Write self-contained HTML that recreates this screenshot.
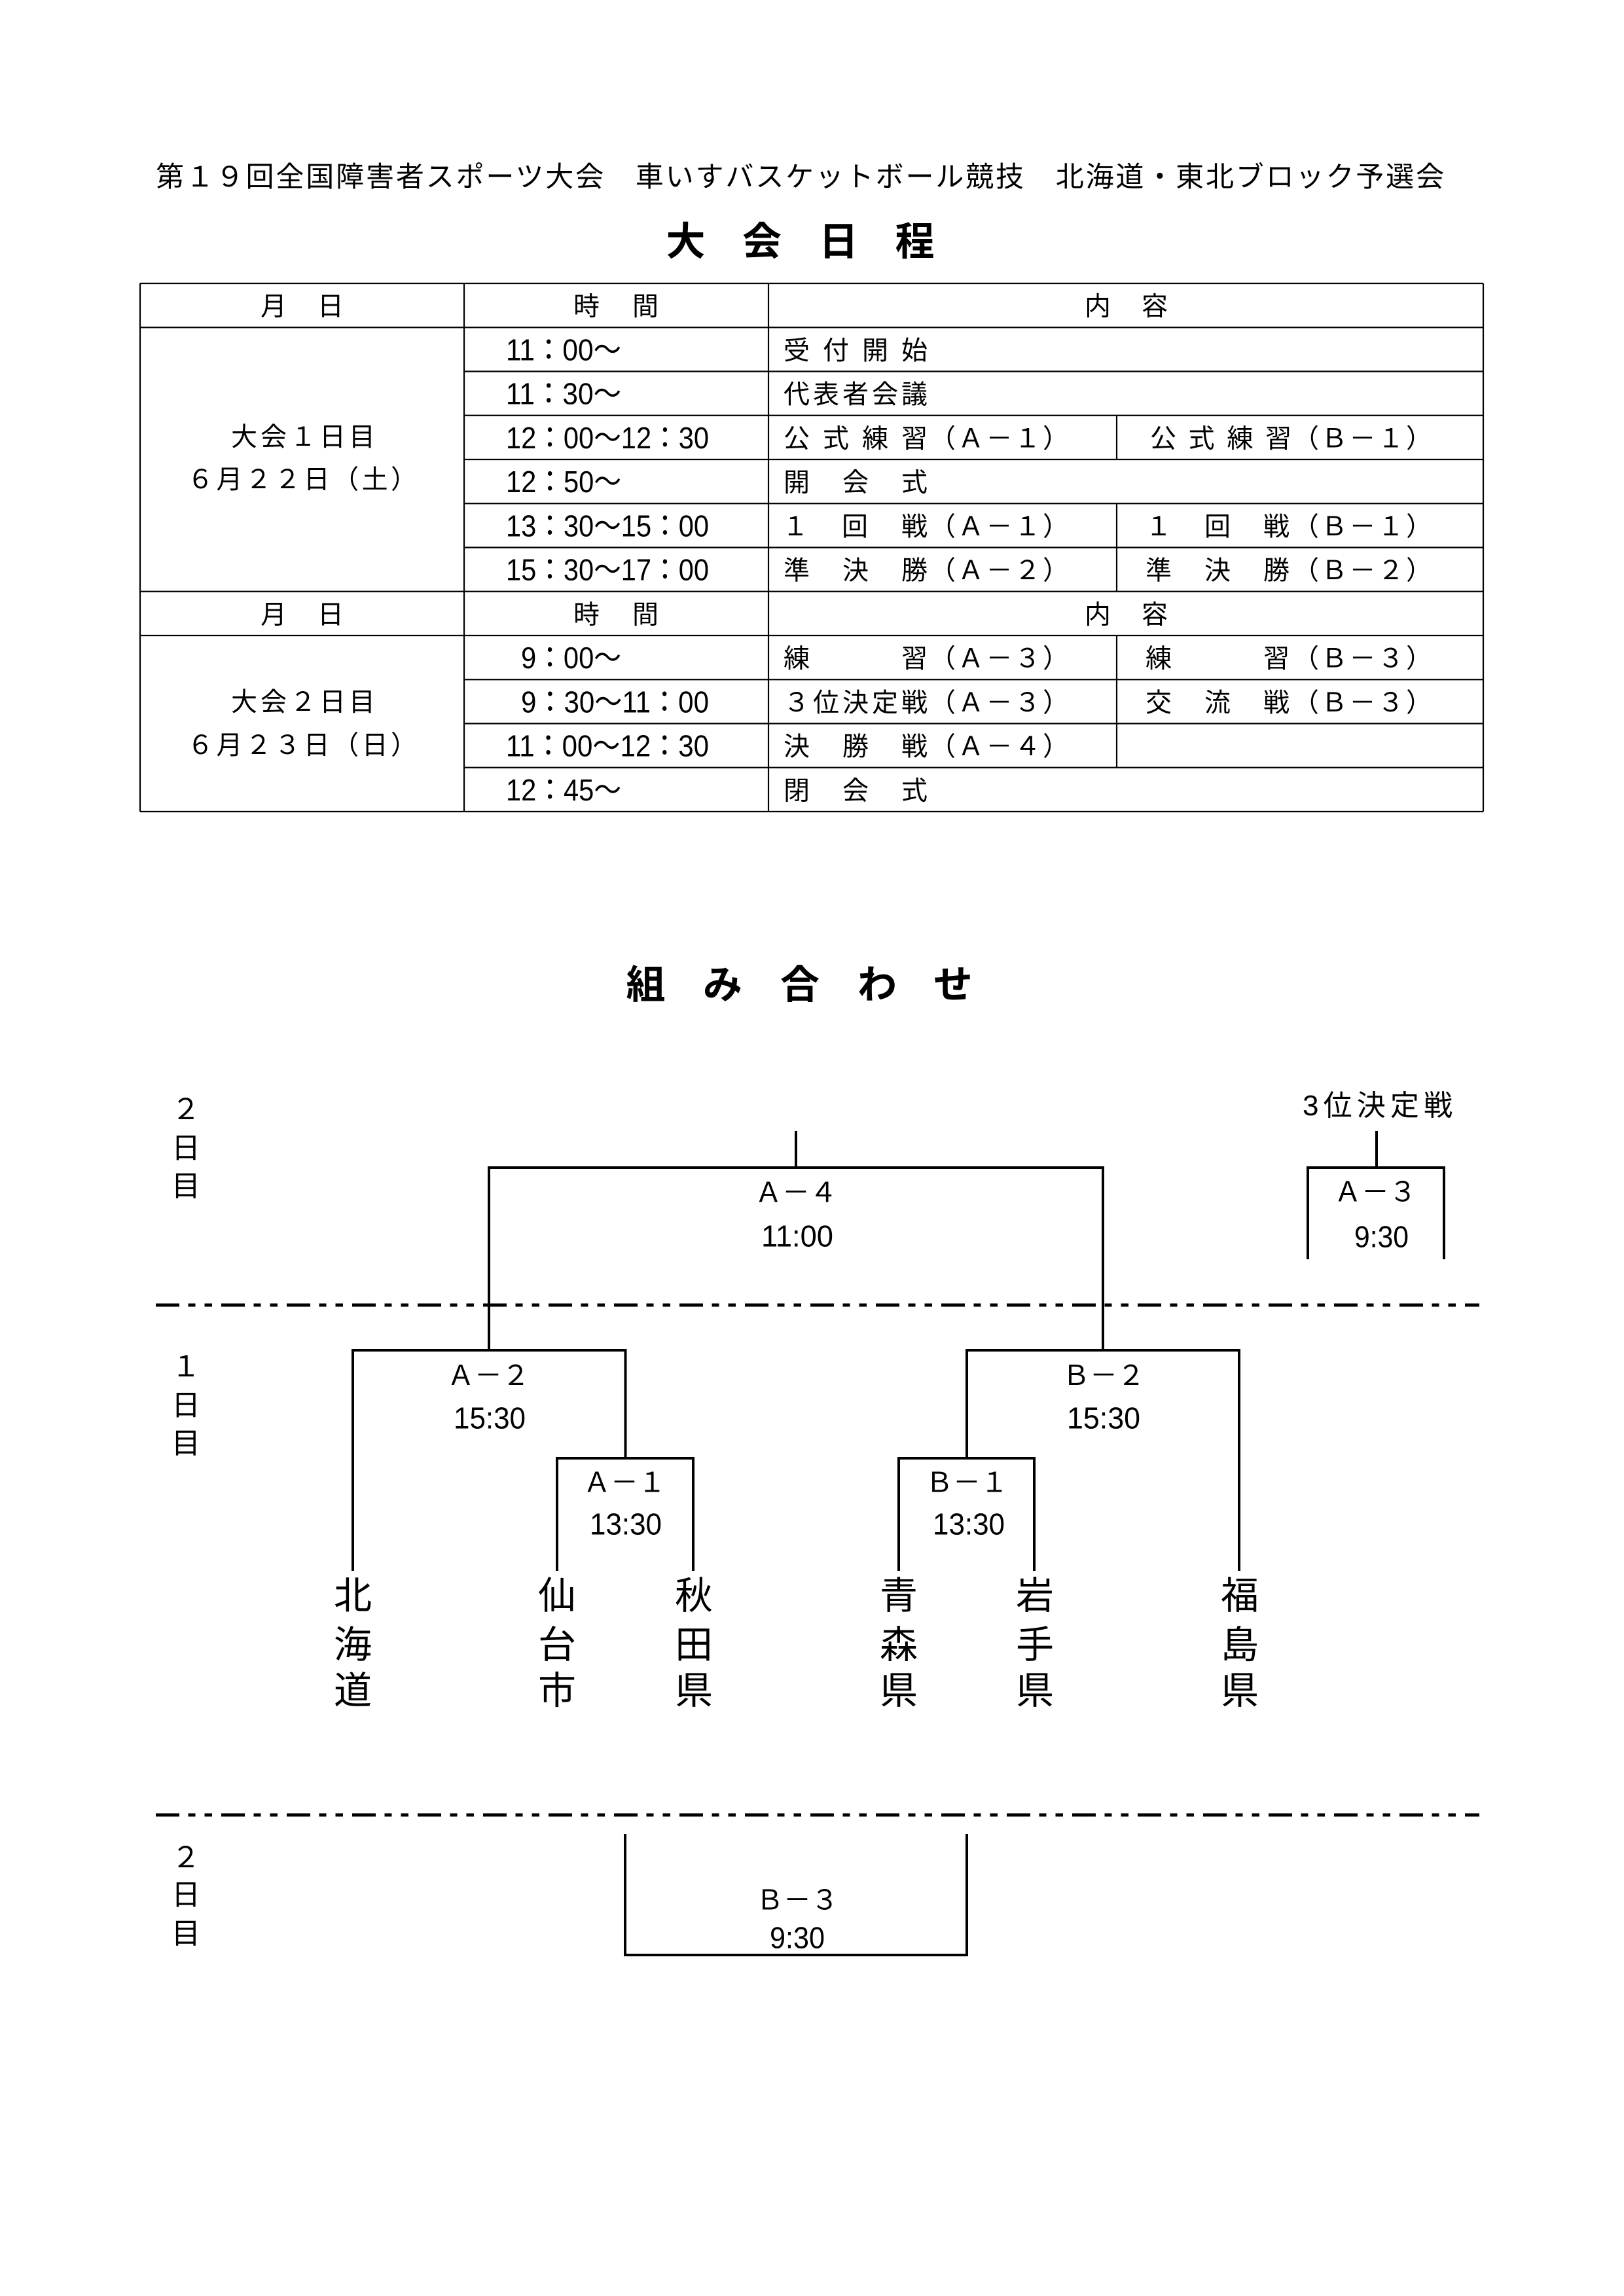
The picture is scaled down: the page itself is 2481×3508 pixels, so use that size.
<!DOCTYPE html>
<html lang="ja">
<head>
<meta charset="utf-8">
<title>大会日程・組み合わせ</title>
<style>
html,body{margin:0;padding:0;background:#fff;}
svg{display:block;}
</style>
</head>
<body>
<svg xmlns="http://www.w3.org/2000/svg" width="2481" height="3508" viewBox="0 0 2481 3508">
<rect x="0" y="0" width="2481" height="3508" fill="#fff"/>
<g font-family="'Liberation Sans','Noto Sans CJK JP',sans-serif" fill="#000">

<!-- Title -->
<text x="238" y="285" font-size="43" textLength="1968">第１９回全国障害者スポーツ大会　車いすバスケットボール競技　北海道・東北ブロック予選会</text>

<!-- 大会日程 heading -->
<g font-size="60" font-weight="bold" text-anchor="middle">
<text x="1047.5" y="390">大</text>
<text x="1164" y="390">会</text>
<text x="1281" y="390">日</text>
<text x="1397.5" y="390">程</text>
</g>

<!-- Table lines -->
<path fill="none" stroke="#000" stroke-width="2.2" d="
M214 433H2266 M214 500.25H2266 M709 567.5H2266 M709 634.75H2266 M709 702H2266 M709 769.25H2266 M709 836.5H2266
M214 903.75H2266 M214 971H2266 M709 1038.25H2266 M709 1105.5H2266 M709 1172.75H2266 M214 1240H2266
M214 433V1240 M709 433V1240 M1174 433V1240 M2266 433V1240
M1706 634.75V702 M1706 769.25V903.75 M1706 971V1172.75"/>

<!-- Header rows -->
<g font-size="40" text-anchor="middle">
<text x="418" y="481.6">月</text><text x="505" y="481.6">日</text>
<text x="896" y="481.6">時</text><text x="986" y="481.6">間</text>
<text x="1677" y="481.6">内</text><text x="1764" y="481.6">容</text>
<text x="418" y="952.4">月</text><text x="505" y="952.4">日</text>
<text x="896" y="952.4">時</text><text x="986" y="952.4">間</text>
<text x="1677" y="952.4">内</text><text x="1764" y="952.4">容</text>
</g>

<!-- Day column -->
<g font-size="40">
<text x="353" y="681" textLength="220">大会１日目</text>
<text x="286" y="746" textLength="351">６月２２日（土）</text>
<text x="353" y="1086" textLength="220">大会２日目</text>
<text x="286" y="1152" textLength="351">６月２３日（日）</text>
</g>

<!-- Time column -->
<g font-size="46">
<text x="773" y="550.4" textLength="176" lengthAdjust="spacingAndGlyphs">11：00～</text>
<text x="773" y="617.6" textLength="176" lengthAdjust="spacingAndGlyphs">11：30～</text>
<text x="773" y="684.9" textLength="310" lengthAdjust="spacingAndGlyphs">12：00～12：30</text>
<text x="773" y="752.1" textLength="176" lengthAdjust="spacingAndGlyphs">12：50～</text>
<text x="773" y="819.4" textLength="310" lengthAdjust="spacingAndGlyphs">13：30～15：00</text>
<text x="773" y="886.6" textLength="310" lengthAdjust="spacingAndGlyphs">15：30～17：00</text>
<text x="796" y="1021.1" textLength="153" lengthAdjust="spacingAndGlyphs">9：00～</text>
<text x="796" y="1088.4" textLength="287" lengthAdjust="spacingAndGlyphs">9：30～11：00</text>
<text x="773" y="1155.6" textLength="310" lengthAdjust="spacingAndGlyphs">11：00～12：30</text>
<text x="773" y="1222.9" textLength="176" lengthAdjust="spacingAndGlyphs">12：45～</text>
</g>

<!-- Content columns -->
<g font-size="40">
<text x="1197" y="548.9" textLength="220">受付開始</text>
<text x="1197" y="616.1" textLength="220">代表者会議</text>

<text x="1197" y="683.4" textLength="220">公式練習</text>
<text x="1420" y="683.4" textLength="213">（Ａ－１）</text>
<text x="1757" y="683.4" textLength="216">公式練習</text>
<text x="1975" y="683.4" textLength="213">（Ｂ－１）</text>

<text x="1197" y="750.6" textLength="220">開　会　式</text>

<text x="1195" y="817.9" textLength="222">１　回　戦</text>
<text x="1420" y="817.9" textLength="213">（Ａ－１）</text>
<text x="1750" y="817.9" textLength="220">１　回　戦</text>
<text x="1975" y="817.9" textLength="213">（Ｂ－１）</text>

<text x="1197" y="885.1" textLength="220">準　決　勝</text>
<text x="1420" y="885.1" textLength="213">（Ａ－２）</text>
<text x="1750" y="885.1" textLength="220">準　決　勝</text>
<text x="1975" y="885.1" textLength="213">（Ｂ－２）</text>

<text x="1197" y="1019.6" textLength="220">練　　　習</text>
<text x="1420" y="1019.6" textLength="213">（Ａ－３）</text>
<text x="1750" y="1019.6" textLength="220">練　　　習</text>
<text x="1975" y="1019.6" textLength="213">（Ｂ－３）</text>

<text x="1197" y="1086.9" textLength="220">３位決定戦</text>
<text x="1420" y="1086.9" textLength="213">（Ａ－３）</text>
<text x="1750" y="1086.9" textLength="220">交　流　戦</text>
<text x="1975" y="1086.9" textLength="213">（Ｂ－３）</text>

<text x="1197" y="1154.1" textLength="220">決　勝　戦</text>
<text x="1420" y="1154.1" textLength="213">（Ａ－４）</text>

<text x="1197" y="1221.4" textLength="220">閉　会　式</text>
</g>

<!-- 組み合わせ heading -->
<g font-size="60" font-weight="bold" text-anchor="middle">
<text x="986.5" y="1525.5">組</text>
<text x="1104" y="1525.5">み</text>
<text x="1222" y="1525.5">合</text>
<text x="1340" y="1525.5">わ</text>
<text x="1456" y="1525.5">せ</text>
</g>

<!-- Day side labels -->
<g font-size="44" text-anchor="middle">
<text x="284" y="1710">２</text>
<text x="284" y="1769">日</text>
<text x="284" y="1827">目</text>
<text x="284" y="2103">１</text>
<text x="284" y="2162">日</text>
<text x="284" y="2220">目</text>
<text x="284" y="2853">２</text>
<text x="284" y="2910">日</text>
<text x="284" y="2969">目</text>
</g>

<!-- 3位決定戦 -->
<text x="1990" y="1704" font-size="44" textLength="229">3位決定戦</text>

<!-- Dashed separators -->
<g stroke="#000" stroke-width="5" stroke-dasharray="36 13.5 11 14 11.5 14" fill="none">
<line x1="238" y1="1994" x2="2260" y2="1994"/>
<line x1="238" y1="2773" x2="2260" y2="2773"/>
</g>

<!-- Bracket lines -->
<path fill="none" stroke="#000" stroke-width="4" stroke-linejoin="miter" d="
M1216 1728V1784
M747 2063V1784H1685V2063
M539 2400V2063H955.5V2228
M851 2400V2228H1059V2400
M1373 2400V2228H1580V2400
M1477 2228V2063H1893V2400
M2103 1728V1784
M1998 1924V1784H2206V1924
M955 2802V2987H1477V2802"/>

<!-- Match labels -->
<g font-size="42" text-anchor="middle">
<text x="1216" y="1836.5">Ａ－４</text>
<text x="2101" y="1835.5">Ａ－３</text>
<text x="746" y="2116">Ａ－２</text>
<text x="1686" y="2116">Ｂ－２</text>
<text x="954" y="2279.5">Ａ－１</text>
<text x="1477" y="2279.5">Ｂ－１</text>
<text x="1218" y="2917.5">Ｂ－３</text>
</g>

<!-- Match times -->
<g font-size="46">
<text x="1163" y="1904.5" textLength="110" lengthAdjust="spacingAndGlyphs">11:00</text>
<text x="2069" y="1905.5" textLength="83" lengthAdjust="spacingAndGlyphs">9:30</text>
<text x="693" y="2182.5" textLength="110" lengthAdjust="spacingAndGlyphs">15:30</text>
<text x="1630" y="2182.5" textLength="112" lengthAdjust="spacingAndGlyphs">15:30</text>
<text x="901" y="2344.5" textLength="110" lengthAdjust="spacingAndGlyphs">13:30</text>
<text x="1425" y="2344.5" textLength="110" lengthAdjust="spacingAndGlyphs">13:30</text>
<text x="1176" y="2976.5" textLength="84" lengthAdjust="spacingAndGlyphs">9:30</text>
</g>

<!-- Team names (vertical) -->
<g font-size="58" text-anchor="middle">
<text x="539" y="2458">北</text><text x="539" y="2533">海</text><text x="539" y="2603">道</text>
<text x="851" y="2458">仙</text><text x="851" y="2533">台</text><text x="851" y="2603">市</text>
<text x="1060" y="2458">秋</text><text x="1060" y="2533">田</text><text x="1060" y="2603">県</text>
<text x="1373" y="2458">青</text><text x="1373" y="2533">森</text><text x="1373" y="2603">県</text>
<text x="1581" y="2458">岩</text><text x="1581" y="2533">手</text><text x="1581" y="2603">県</text>
<text x="1894" y="2458">福</text><text x="1894" y="2533">島</text><text x="1894" y="2603">県</text>
</g>

</g>
</svg>
</body>
</html>
